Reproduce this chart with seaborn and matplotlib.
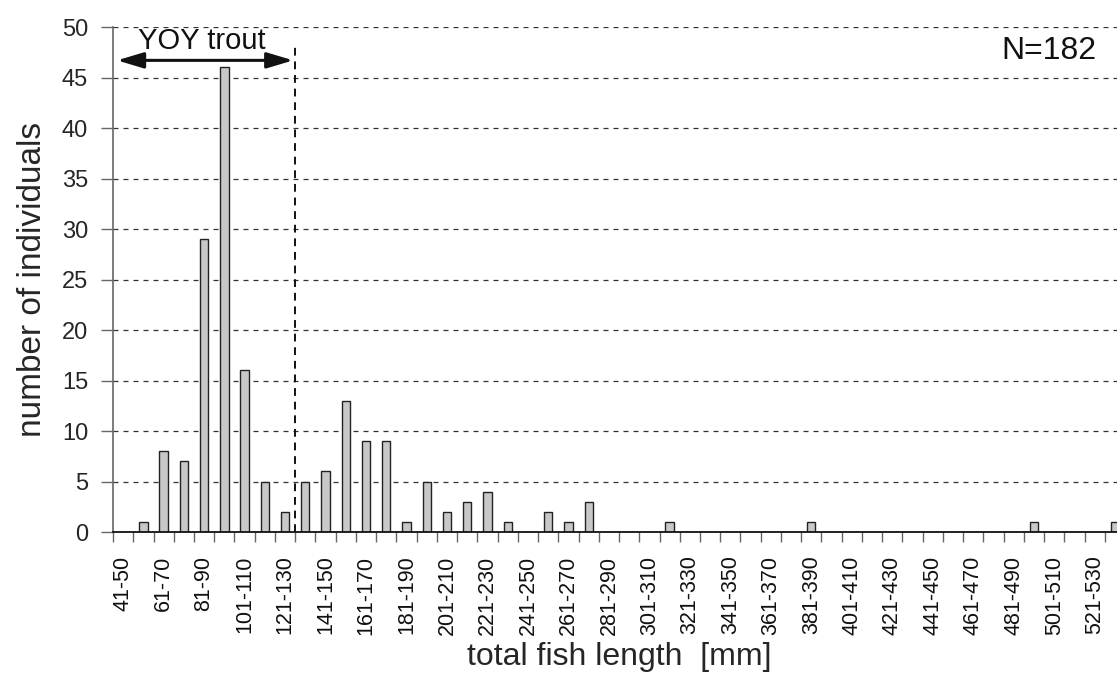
import matplotlib
matplotlib.use("Agg")
import pandas as pd
import matplotlib.pyplot as plt
import seaborn as sns

# --- DATA ---
bin_starts = list(range(41, 541, 10))
length_classes = [f"{s}-{s + 9}" for s in bin_starts]
counts = [0, 1, 8, 7, 29, 46, 16, 5, 2, 5,
          6, 13, 9, 9, 1, 5, 2, 3, 4, 1,
          0, 2, 1, 3, 0, 0, 0, 1, 0, 0,
          0, 0, 0, 0, 1, 0, 0, 0, 0, 0,
          0, 0, 0, 0, 0, 1, 0, 0, 0, 1]
yoy_last_class = "121-130"
n_total = sum(counts)

df = pd.DataFrame({"length_class": length_classes, "count": counts})

sns.set_style("white")
plt.rcParams['font.family'] = 'Liberation Sans'

fig = plt.figure(figsize=(11.17, 6.76), dpi=100)
ax = fig.add_axes([0.1012, 0.213, 0.906, 0.747])

sns.barplot(data=df, x="length_class", y="count", order=length_classes,
            color="#c8c8c8", edgecolor="#222222", linewidth=1.0,
            width=0.41, saturation=1, ax=ax, zorder=3)

n = len(length_classes)

# --- YOY marker ---
cut = length_classes.index(yoy_last_class) + 0.5
ax.plot([cut, cut], [0, 48], linestyle=(0, (4, 3)), color="#111111",
        linewidth=1.4, zorder=4)
ax.annotate("", xy=(-0.3, 46.7), xytext=(cut - 0.1, 46.7),
            arrowprops=dict(arrowstyle="<|-|>,head_length=0.8,head_width=0.24",
                            mutation_scale=20, color="#111111", lw=2.2,
                            shrinkA=0, shrinkB=0), zorder=5)
ax.text(3.9, 48.6, "YOY trout", ha="center", va="center", fontsize=21,
        color="#111111", zorder=5)
ax.text(48.1, 47.6, f"N={n_total}", ha="right", va="center", fontsize=23,
        color="#111111", zorder=5)

# --- AXES ---
ax.yaxis.grid(True, linestyle=(0, (4, 4)), color="#333333", linewidth=0.9)
ax.set_axisbelow(True)

for side in ["top", "right"]:
    ax.spines[side].set_visible(False)
ax.spines["left"].set_color("#666666")
ax.spines["left"].set_linewidth(1.2)
ax.spines["bottom"].set_color("#111111")
ax.spines["bottom"].set_linewidth(1.3)
ax.spines["bottom"].set_zorder(4)

ax.set_xlim(-0.5, n - 0.5)
ax.set_ylim(0, 50)
ax.set_yticks(range(0, 51, 5))
ax.tick_params(axis="y", labelsize=17, length=9, width=1, color="#666666",
               pad=9, left=True)

# labels on every second class, tick marks between classes
ax.set_xticks(range(0, n, 2))
ax.set_xticklabels(length_classes[::2], rotation=90, color="#111111",
                   fontsize=15.5, fontfamily="Liberation Sans")
ax.set_xticks([i - 0.5 for i in range(n + 1)], minor=True)
ax.tick_params(axis="x", which="major", length=0, pad=17, labelsize=15.5)
ax.tick_params(axis="x", which="minor", length=7, width=1, color="#666666",
               bottom=True)

ax.set_xlabel("total fish length  [mm]", fontsize=23, labelpad=5)
ax.set_ylabel("number of individuals", fontsize=24, labelpad=10)

fig.savefig("out.png", dpi=100)
